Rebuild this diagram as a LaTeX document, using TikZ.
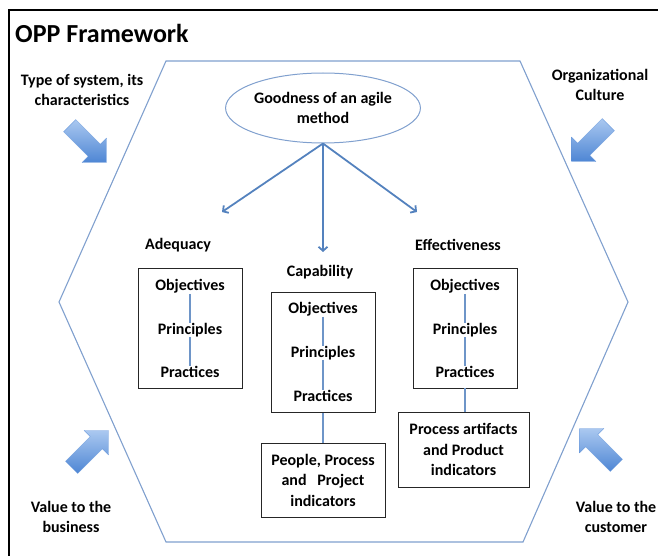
\documentclass[tikz,border=0pt]{standalone}
\usepackage{fontspec}
\setmainfont{Carlito}
\usetikzlibrary{shapes.geometric, shapes.arrows, arrows.meta, positioning}

\definecolor{hexblue}{RGB}{128,160,206}
\definecolor{linkblue}{RGB}{84,130,190}
\definecolor{arrowlight}{RGB}{170,200,240}
\definecolor{arrowdark}{RGB}{78,134,212}

\tikzset{
  txt/.style={font=\bfseries\fontsize{16}{20.5}\selectfont, align=center, inner sep=0pt},
  level/.style={txt, text height=11pt, text depth=3pt},
  frame/.style={draw=black!85, line width=0.8pt, minimum width=104pt, minimum height=120pt},
  link/.style={draw=linkblue!85, line width=1.5pt},
  bigarrow/.style={single arrow, draw=arrowdark!90, line width=0.3pt, inner sep=0pt,
    text width=0pt, text height=8.5pt, text depth=8.5pt,
    minimum height=52pt, minimum width=34pt, single arrow head extend=8.5pt,
    single arrow head indent=0pt, top color=arrowlight, bottom color=arrowdark}
}

\begin{document}
\begin{tikzpicture}[x=1pt, y=-1pt, >={Straight Barb[length=4pt,width=9pt]}]
\useasboundingbox (0,0) rectangle (658,556);
% outer frame, cut at right and bottom
\draw[line width=2.5pt] (9,556) -- (9,10) -- (658,10);
\node[font=\bfseries\fontsize{26}{30}\selectfont, anchor=west, inner sep=0pt] (title) at (15,33) {OPP Framework};

% hexagon
\draw[hexblue, line width=1.1pt] (166,61) -- (520,61) -- (628,302) -- (523,542) -- (166,542) -- (59,302) -- cycle;

% outside influences
\node[txt] (system) at (82,90) {Type of system, its\\characteristics};
\node[txt] (culture) at (600,85) {Organizational\\Culture};
\node[txt] (business) at (71,517) {Value to the\\business};
\node[txt] (customer) at (616,517) {Value to the\\customer};
\node[bigarrow, rotate=-45] (systemArrow) at (85,141) {};
\node[bigarrow, rotate=-135] (cultureArrow) at (593,140) {};
\node[bigarrow, rotate=45] (businessArrow) at (87,452) {};
\node[bigarrow, rotate=135] (customerArrow) at (601,450) {};

% goodness and its three views
\node[txt, draw=hexblue, line width=1pt, ellipse, minimum width=194pt, minimum height=70pt] (good) at (323,108) {Goodness of an agile\\method};
\coordinate (adqEnd) at (222,212);
\coordinate (capEnd) at (323,252);
\coordinate (effEnd) at (417,212);
\draw[->, linkblue, line width=1.8pt] (good.south) -- (adqEnd);
\draw[->, linkblue, line width=1.8pt] (good.south) -- (capEnd);
\draw[->, linkblue, line width=1.8pt] (good.south) -- (effEnd);

\node[txt] (adqLabel) at (178,245) {Adequacy};
\node[txt] (capLabel) at (320,272) {Capability};
\node[txt] (effLabel) at (458,245) {Effectiveness};

% adequacy
\node[frame] (adq) at (190,328) {};
\node[level] (adqPri) at (190,330) {Principles};
\node[level, above=29pt of adqPri] (adqObj) {Objectives};
\node[level, below=29pt of adqPri] (adqPra) {Practices};
\draw[link] (adqObj) -- (adqPri);
\draw[link] (adqPri) -- (adqPra);

% capability
\node[frame] (cap) at (323,352.5) {};
\node[level] (capPri) at (323,353) {Principles};
\node[level, above=29pt of capPri] (capObj) {Objectives};
\node[level, below=30pt of capPri] (capPra) {Practices};
\draw[link] (capObj) -- (capPri);
\draw[link] (capPri) -- (capPra);

% effectiveness
\node[frame] (eff) at (465,328) {};
\node[level] (effPri) at (465,330) {Principles};
\node[level, above=29pt of effPri] (effObj) {Objectives};
\node[level, below=29pt of effPri] (effPra) {Practices};
\draw[link] (effObj) -- (effPri);
\draw[link] (effPri) -- (effPra);

% indicators
\node[txt, frame, minimum width=124pt, minimum height=74pt] (capInd) at (323,480) {People, Process\\and~~~Project\\indicators};
\node[txt, frame, minimum width=131pt, minimum height=75pt] (effInd) at (463.5,449.5) {Process artifacts\\and Product\\indicators};
\draw[link] (cap.south) -- (cap.south |- capInd.north);
\draw[link] (eff.south) -- (eff.south |- effInd.north);
\end{tikzpicture}
\end{document}
